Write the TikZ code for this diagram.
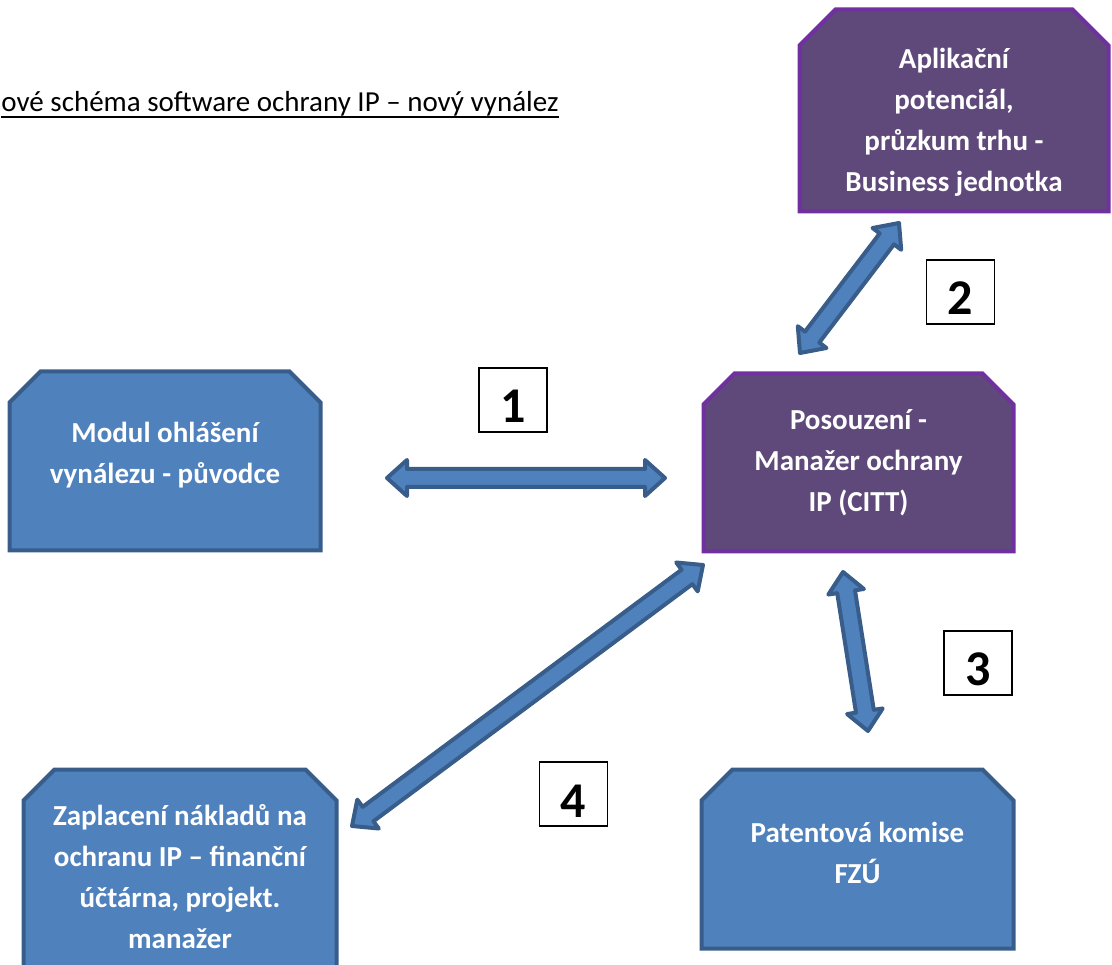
\documentclass[tikz,border=0pt]{standalone}
\usepackage{fontspec}
\setmainfont{Carlito}
\usetikzlibrary{calc,backgrounds}
\definecolor{boxblue}{HTML}{4F81BD}
\definecolor{edgeblue}{HTML}{385D8A}
\definecolor{boxpurple}{HTML}{5F497A}
\definecolor{edgepurple}{HTML}{7030A0}
\tikzset{
every picture/.style={
line width=1pt
},
boxtext/.style={text=white, align=center, font=\bfseries\fontsize{29}{41}\selectfont,
  minimum width=310pt, minimum height=178pt, inner sep=0pt},
bluefill/.style={draw=edgeblue, fill=boxblue, line width=4pt},
purplefill/.style={draw=edgepurple, fill=boxpurple, line width=4pt},
numbox/.style={draw=black, fill=white, line width=1.5pt, minimum width=68pt,
  minimum height=64pt, inner sep=0pt, text height=46pt,
  font=\bfseries\fontsize{50}{50}\selectfont},
blockarrow/.style={draw=edgeblue, fill=boxblue, line width=4pt, line join=round}
}
% box outline with both top corners cut off
\newcommand{\cutbox}[3]{
  \draw[#3] (#1.south west) -- ([yshift=-#2]#1.north west) -- ([xshift=#2]#1.north west)
    -- ([xshift=-#2]#1.north east) -- ([yshift=-#2]#1.north east) -- (#1.south east) -- cycle;
}
% block arrow with a head at both ends
\newcommand{\dblarrow}[2]{
  \coordinate (ha) at ($(#1)!20pt!(#2)$);
  \coordinate (hb) at ($(#2)!20pt!(#1)$);
  \draw[blockarrow] (#1) -- ($(ha)!18pt!90:(#2)$) -- ($(ha)!9pt!90:(#2)$)
    -- ($(hb)!9pt!-90:(#1)$) -- ($(hb)!18pt!-90:(#1)$) -- (#2)
    -- ($(hb)!18pt!90:(#1)$) -- ($(hb)!9pt!90:(#1)$)
    -- ($(ha)!9pt!-90:(#2)$) -- ($(ha)!18pt!-90:(#2)$) -- cycle;
}

\begin{document}
\begin{tikzpicture}[x=1pt,y=-1pt]
\useasboundingbox (0,0) rectangle (1112,965);
\clip (0,0) rectangle (1112,965);

\node[anchor=base west, inner sep=0pt, font=\fontsize{29}{34}\selectfont] (title) at (1,112)
  {ové schéma software ochrany IP – nový vynález};
\draw[line width=1.5pt] ([yshift=-5pt]title.base west) -- ([yshift=-5pt]title.base east);

\node[boxtext, minimum width=308pt, minimum height=201pt] (business) at (954,110.5)
  {\rule{0pt}{44pt}Aplikační\\potenciál,\\průzkum trhu -\\Business jednotka};
\node[boxtext] (modul) at (165,461) {Modul ohlášení\\vynálezu - původce\rule[-17pt]{0pt}{0pt}};
\node[boxtext, minimum width=309pt, minimum height=177pt] (manazer) at (858.5,462.5)
  {Posouzení -\\Manažer ochrany\\IP (CITT)};
\node[boxtext, minimum width=312pt, minimum height=214pt] (platba) at (180,877)
  {Zaplacení nákladů na\\ochranu IP – finanční\\účtárna, projekt.\\manažer};
\node[boxtext, minimum width=311pt] (komise) at (857.5,859) {Patentová komise\\FZÚ\rule[-12pt]{0pt}{0pt}};

\begin{scope}[on background layer]
\clip (0,0) rectangle (1112,965);
\cutbox{business}{36pt}{purplefill}
\cutbox{manazer}{31pt}{purplefill}
\foreach \b in {modul, platba, komise}{
  \cutbox{\b}{31pt}{bluefill}
}
\end{scope}

\foreach \sx/\sy/\ex/\ey [count=\i] in {387/478/665/478, 800/353/899/223,
  843/572/868/731, 352/826/703/565}{
  \coordinate (s\i) at (\sx,\sy);
  \coordinate (e\i) at (\ex,\ey);
  \dblarrow{s\i}{e\i}
}

\foreach \n/\x/\y in {1/513/400, 2/960.5/292, 3/978/663, 4/573.5/794}
  \node[numbox] (num\n) at (\x,\y) {\n};

\end{tikzpicture}
\end{document}
